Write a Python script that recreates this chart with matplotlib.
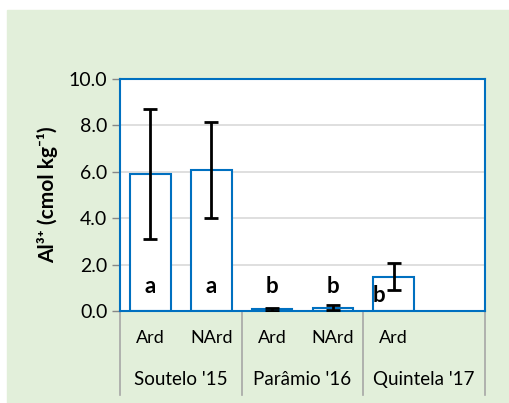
import matplotlib.pyplot as plt
from matplotlib.patches import Rectangle
from matplotlib.transforms import blended_transform_factory

# Exchangeable Al3+ by site and management
sites = ["Soutelo '15", "Parâmio '16", "Quintela '17"]
treatments = ["Ard", "NArd", "Ard", "NArd", "Ard", ""]
al_mean = [5.92, 6.08, 0.07, 0.15, 1.48]
al_err = [2.80, 2.08, 0.08, 0.10, 0.59]
letters = ["a", "a", "b", "b", "b"]

BLUE = "#0070C0"
GREEN = "#E2EFDA"

plt.rcParams["font.family"] = ["Lato", "DejaVu Sans"]

fig = plt.figure(figsize=(5.10, 4.03), dpi=100)
fig.patch.set_facecolor("white")
fig.patches.append(Rectangle((7 / 510, 0), 1, (403 - 10) / 403,
                             transform=fig.transFigure, color=GREEN, zorder=-10))

ax = fig.add_axes([120 / 510, 1 - 311 / 403, 365 / 510, 232 / 403])
ax.set_facecolor("white")

x = list(range(len(al_mean)))
ax.bar(x, al_mean, width=0.67, color="white", edgecolor=BLUE, linewidth=1.5, zorder=2)
ax.errorbar(x, al_mean, yerr=al_err, fmt="none", ecolor="black",
            elinewidth=2, capsize=5, capthick=2, zorder=3)

# significance letters
for i, lab in enumerate(letters):
    if i == 4:
        ax.text(i - 0.25, 0.65, lab, ha="center", va="center",
                fontsize=16, fontweight="bold", zorder=4)
    else:
        ax.text(i, 1.05, lab, ha="center", va="center",
                fontsize=16, fontweight="bold", zorder=4)

ax.set_xlim(-0.5, len(treatments) - 0.5)
ax.set_ylim(0, 10)
ax.set_yticks([0, 2, 4, 6, 8, 10])
ax.set_yticklabels([f"{v:.1f}" for v in [0, 2, 4, 6, 8, 10]], fontsize=14)
ax.yaxis.grid(True, color="#D9D9D9", linewidth=1.2, zorder=0)
ax.set_axisbelow(True)
ax.tick_params(axis="y", length=6, color="#868686", width=1, pad=3)
ax.set_xticks([])
for sp in ax.spines.values():
    sp.set_color(BLUE)
    sp.set_linewidth(1.5)

ax.set_ylabel("Al³⁺ (cmol kg⁻¹)", fontsize=15, fontweight="bold", labelpad=8)

# two-level category axis
trans = blended_transform_factory(ax.transData, ax.transAxes)
for i, t in enumerate(treatments):
    ax.text(i, -0.115, t, transform=trans, ha="center", va="center", fontsize=13)
for j, s in enumerate(sites):
    ax.text(2 * j + 0.5, -0.295, s, transform=trans, ha="center", va="center", fontsize=13.5)
for b in [-0.5, 1.5, 3.5, 5.5]:
    ax.plot([b, b], [0, -0.362], transform=trans, color="#A6A6A6",
            linewidth=1.2, clip_on=False)

fig.savefig("out.png", dpi=100)
